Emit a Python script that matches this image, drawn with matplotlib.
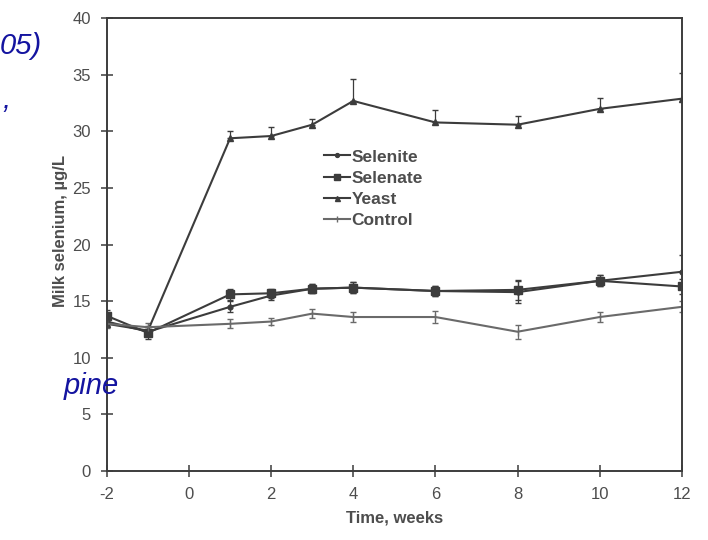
import matplotlib.pyplot as plt
from matplotlib.lines import Line2D
import numpy as np

# weeks relative to start of supplementation
weeks = [-2, -1, 1, 2, 3, 4, 6, 8, 10, 12]

# milk selenium, ug/L
selenite = [13.2, 12.3, 14.5, 15.5, 16.1, 16.2, 15.9, 15.8, 16.8, 17.6]
selenate = [13.7, 12.2, 15.6, 15.7, 16.1, 16.2, 15.9, 16.0, 16.8, 16.3]
yeast = [13.0, 12.4, 29.4, 29.6, 30.6, 32.7, 30.8, 30.6, 32.0, 32.9]
control = [13.0, 12.7, 13.0, 13.2, 13.9, 13.6, 13.6, 12.3, 13.6, 14.5]

selenite_err = [0.5, 0.4, 0.5, 0.4, 0.4, 0.5, 0.4, 1.0, 0.5, 1.5]
selenate_err = [0.5, 0.5, 0.5, 0.4, 0.4, 0.5, 0.4, 0.9, 0.5, 0.7]
yeast_err = [0.5, 0.4, 0.6, 0.8, 0.5, 1.9, 1.1, 0.8, 1.0, 2.3]
control_err = [0.4, 0.4, 0.4, 0.3, 0.4, 0.4, 0.5, 0.6, 0.4, 0.5]

labels = ['Selenite', 'Selenate', 'Yeast', 'Control']

line_col = '#3c3c3c'
ctrl_col = '#6a6a6a'
text_col = '#4d4d4d'
blue = '#1414a0'

plt.rcParams['font.family'] = ['Liberation Sans', 'DejaVu Sans']
plt.rcParams['axes.unicode_minus'] = False

fig = plt.figure(figsize=(7.08, 5.40), dpi=100)
ax = fig.add_axes([0.151, 0.128, 0.812, 0.838])

styles = [('o', 3.5, line_col), ('s', 5.5, line_col), ('^', 4.5, line_col), ('|', 6, ctrl_col)]
series = [selenite, selenate, yeast, control]
errs = [selenite_err, selenate_err,
        [np.zeros(len(yeast)), yeast_err],  # upper bars only
        control_err]

for y, e, (m, ms, c) in zip(series, errs, styles):
    ax.errorbar(weeks, y, yerr=e, color=c, lw=1.5, marker=m, ms=ms,
                elinewidth=0.9, capsize=2.5)

ax.set_xlim(-2, 12)
ax.set_ylim(0, 40)
ax.set_xticks(range(-2, 13, 2))
ax.set_yticks(range(0, 41, 5))
ax.tick_params(direction='inout', length=9, width=1.1, colors=line_col,
               labelcolor=text_col, labelsize=12, pad=7)
for s in ax.spines.values():
    s.set_color(line_col)
    s.set_linewidth(1.4)

ax.set_xlabel('Time, weeks', fontsize=12, color=text_col, fontweight='bold', labelpad=6)
ax.set_ylabel('Milk selenium, \u00b5g/L', fontsize=12, color=text_col, fontweight='bold')
ax.yaxis.set_label_coords(-0.068, 0.53)

handles = [Line2D([], [], color=c, lw=1.5, marker=m, ms=ms * 0.8) for m, ms, c in styles]
leg = ax.legend(handles, labels, loc='upper left', bbox_to_anchor=(0.35, 0.745),
                frameon=False, handlelength=1.5, handletextpad=0.1, labelspacing=0.35,
                prop={'size': 12.5, 'weight': 'bold'})
for t in leg.get_texts():
    t.set_color(text_col)

# slide text behind the chart
fig.text(0.0, 0.915, '05)', fontsize=21, style='italic', color=blue, va='center')
fig.text(0.004, 0.815, ',', fontsize=21, style='italic', color=blue, va='center')
fig.text(0.168, 0.285, 'pine', fontsize=21, style='italic', color=blue, va='center', ha='right')

fig.savefig('out.png', dpi=100)
